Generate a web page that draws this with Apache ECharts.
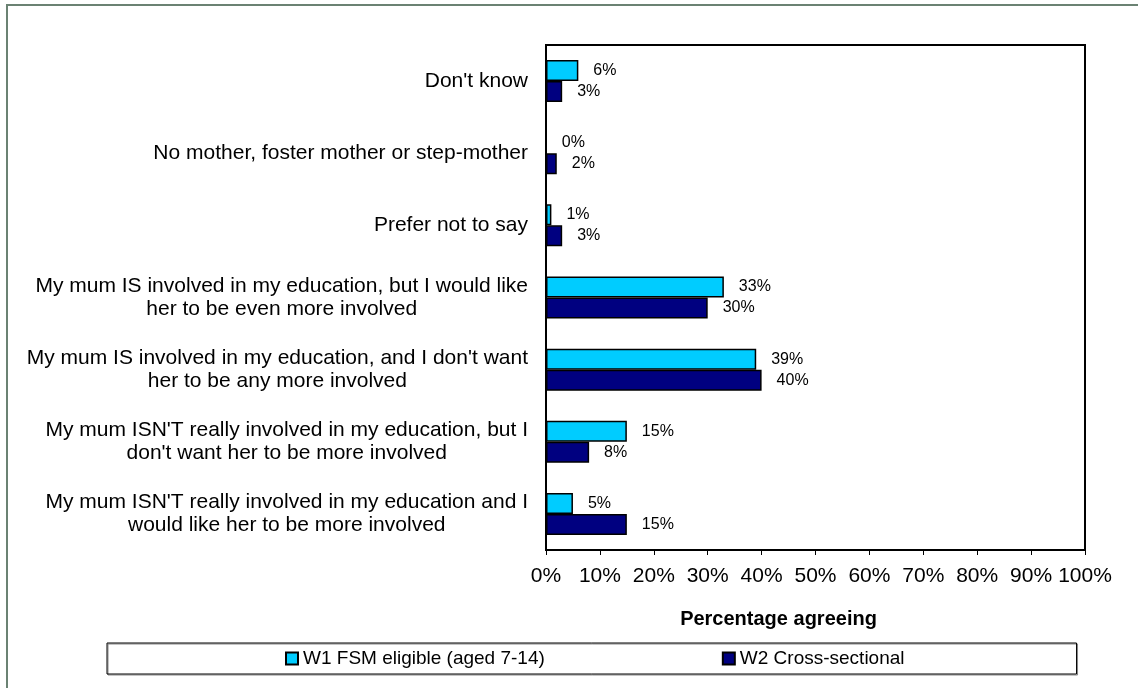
<!DOCTYPE html>
<html>
<head>
<meta charset="utf-8">
<script src="https://cdn.jsdelivr.net/npm/echarts@6/dist/echarts.min.js"></script>
<style>
    * { margin: 0; padding: 0; }
    body { background: #fff; }
    #frame { position: absolute; left: 6px; top: 4px; width: 1140px; height: 690px; border: 2px solid #6b8273; }
    #main { position: absolute; left: 0; top: 0; width: 1138px; height: 688px; }
</style>
</head>
<body>
<div id="frame"></div>
<div id="main"></div>
<script>
    // categories, top to bottom
    var categories = [
        "Don't know",
        'No mother, foster mother or step-mother',
        'Prefer not to say',
        'My mum IS involved in my education, but I would like\nher to be even more involved',
        "My mum IS involved in my education, and I don't want\nher to be any more involved",
        "My mum ISN'T really involved in my education, but I\ndon't want her to be more involved",
        "My mum ISN'T really involved in my education and I\nwould like her to be more involved"
    ];
    var seriesNames = ['W1 FSM eligible (aged 7-14)', 'W2 Cross-sectional'];
    var w1Values = [6, 0, 1, 33, 39, 15, 5];
    var w2Values = [3, 2, 3, 30, 40, 8, 15];

    var font = 'Arial, "Liberation Sans", sans-serif';

    function barSeries(name, data, color) {
        return {
            name: name,
            type: 'bar',
            data: data,
            barWidth: 21,
            barGap: '0%',
            itemStyle: { color: color, borderColor: '#000', borderWidth: 1.5 },
            label: {
                show: true,
                position: 'right',
                distance: 15,
                formatter: '{c}%',
                color: '#000',
                fontSize: 16,
                fontFamily: font
            }
        };
    }

    var chart = echarts.init(document.getElementById('main'));
    chart.setOption({
        animation: false,
        grid: {
            left: 546, right: 53, top: 45, bottom: 138,
            show: true, borderColor: '#000', borderWidth: 2
        },
        legend: {
            data: seriesNames,
            icon: 'rect',
            left: 107, top: 643,
            padding: [6, 172, 6, 178],
            itemGap: 177,
            itemWidth: 12, itemHeight: 12,
            borderColor: '#000', borderWidth: 1,
            shadowColor: '#888', shadowOffsetX: 1, shadowOffsetY: 1, shadowBlur: 0,
            textStyle: { color: '#000', fontSize: 19, fontFamily: font }
        },
        xAxis: {
            type: 'value',
            min: 0, max: 100, interval: 10,
            name: 'Percentage agreeing',
            nameLocation: 'middle',
            nameGap: 59,
            nameTextStyle: { color: '#000', fontSize: 20, fontWeight: 'bold', fontFamily: font, padding: [0, 74, 0, 0] },
            axisLine: { show: true, lineStyle: { color: '#000', width: 2 } },
            axisTick: { show: true, length: 5, lineStyle: { color: '#000' } },
            axisLabel: { formatter: '{value}%', color: '#000', fontSize: 21, margin: 16, fontFamily: font },
            splitLine: { show: false }
        },
        yAxis: {
            type: 'category',
            inverse: true,
            data: categories,
            axisLine: { lineStyle: { color: '#000', width: 2 } },
            axisTick: { length: 6, lineStyle: { color: '#000' } },
            axisLabel: {
                margin: 18,
                fontFamily: font,
                formatter: function (v) {
                    return v.split('\n').map(function (l) { return '{c|' + l + '}'; }).join('\n');
                },
                rich: {
                    c: { align: 'center', color: '#000', fontSize: 21, lineHeight: 23, fontFamily: font }
                }
            }
        },
        series: [
            barSeries(seriesNames[0], w1Values, '#00ccff'),
            barSeries(seriesNames[1], w2Values, '#000080')
        ]
    });
</script>
</body>
</html>
